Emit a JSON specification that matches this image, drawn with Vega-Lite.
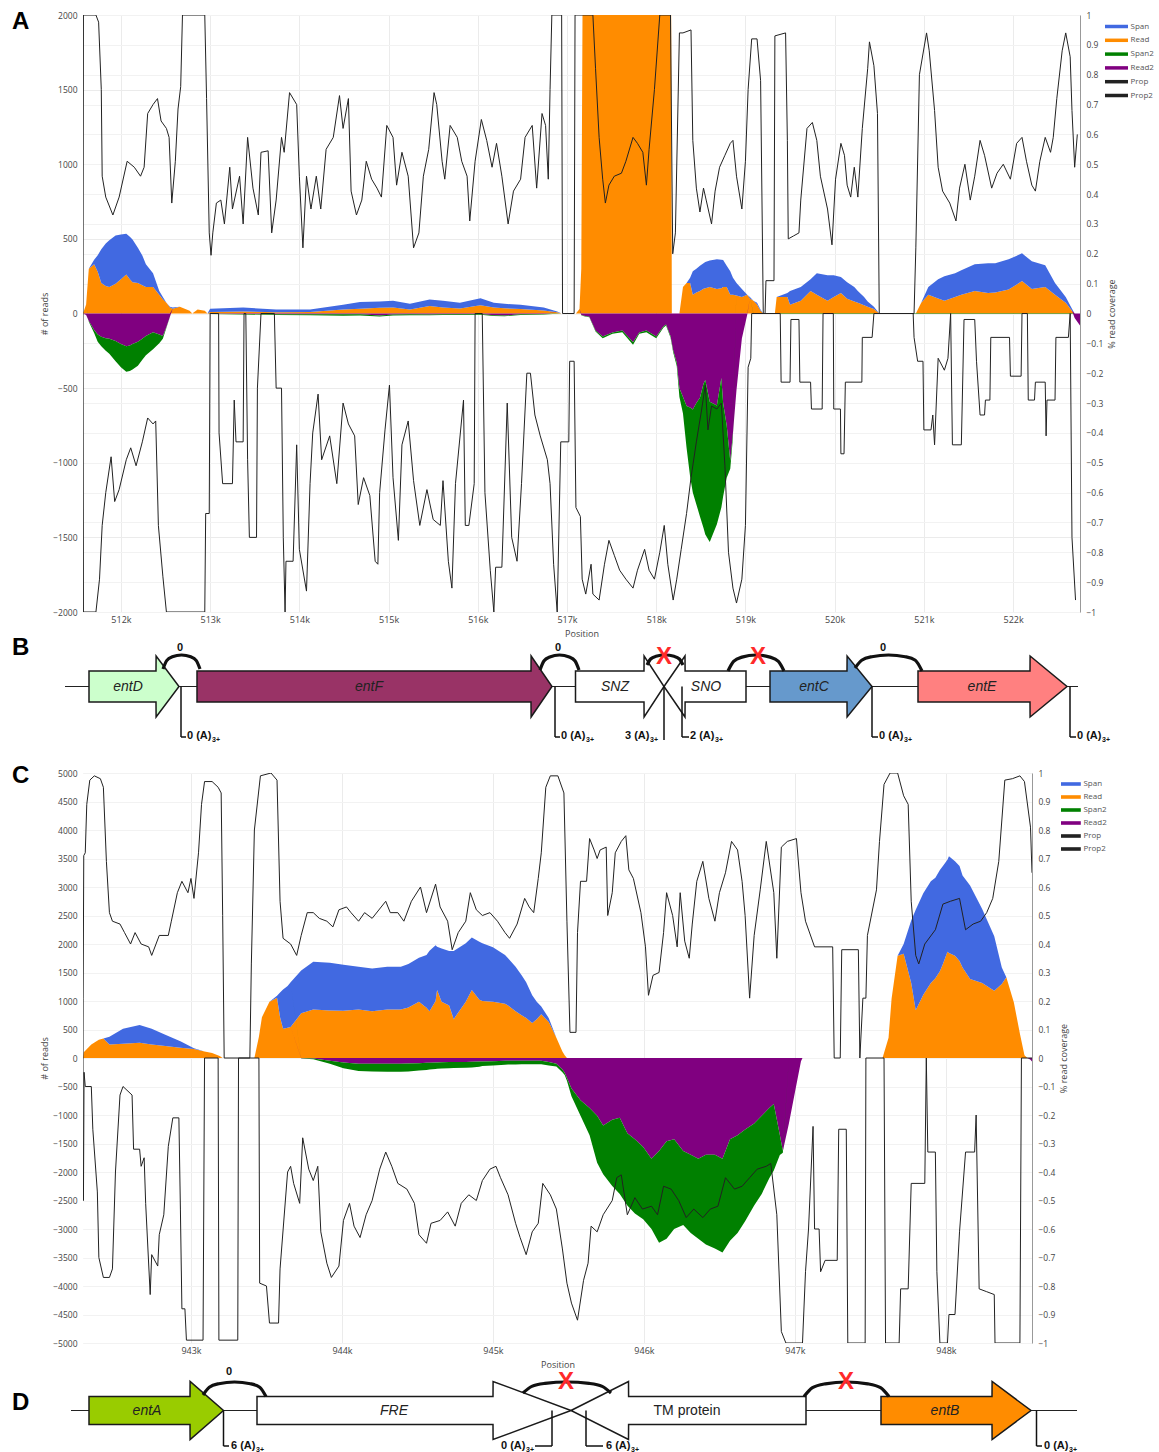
{
"$schema":"https://vega.github.io/schema/vega-lite/v6.json",
"background":"white",
"padding":{"left":11,"top":9,"right":2,"bottom":0},
"autosize":{"type":"pad"},
"spacing":0,
"bounds":"flush",
"config":{"view":{"stroke":null},"axis":{"labelFont":"Open Sans","titleFont":"Open Sans","labelColor":"#444","titleColor":"#444","labelFontSize":8.5,"titleFontSize":9,"titleFontWeight":"normal","ticks":false,"domain":false,"gridColor":"#ebebeb"},"legend":{"labelFont":"Open Sans"}},
"resolve":{"scale":{"color":"independent","x":"independent","y":"independent"},"legend":{"color":"independent"}},
"datasets":{
"aArea":[
{"pos":511575,"Read":0,"Span":0,"Read2":0,"Span2":0},
{"pos":511610,"Read":60,"Span":0,"Read2":-10,"Span2":0},
{"pos":511640,"Read":300,"Span":0,"Read2":-50,"Span2":-5},
{"pos":511700,"Read":330,"Span":30,"Read2":-110,"Span2":-20},
{"pos":511740,"Read":280,"Span":110,"Read2":-140,"Span2":-50},
{"pos":511780,"Read":205,"Span":225,"Read2":-155,"Span2":-65},
{"pos":511830,"Read":185,"Span":284,"Read2":-165,"Span2":-85},
{"pos":511870,"Read":178,"Span":312,"Read2":-170,"Span2":-100},
{"pos":511940,"Read":200,"Span":322,"Read2":-185,"Span2":-135},
{"pos":512000,"Read":230,"Span":300,"Read2":-205,"Span2":-155},
{"pos":512060,"Read":262,"Span":273,"Read2":-220,"Span2":-170},
{"pos":512100,"Read":230,"Span":285,"Read2":-215,"Span2":-170},
{"pos":512130,"Read":210,"Span":285,"Read2":-205,"Span2":-170},
{"pos":512190,"Read":204,"Span":236,"Read2":-190,"Span2":-160},
{"pos":512240,"Read":190,"Span":199,"Read2":-170,"Span2":-140},
{"pos":512280,"Read":178,"Span":152,"Read2":-150,"Span2":-130},
{"pos":512360,"Read":178,"Span":92,"Read2":-125,"Span2":-115},
{"pos":512430,"Read":125,"Span":26,"Read2":-140,"Span2":-60},
{"pos":512470,"Read":95,"Span":15,"Read2":-150,"Span2":-20},
{"pos":512510,"Read":72,"Span":0,"Read2":-90,"Span2":-5},
{"pos":512550,"Read":40,"Span":5,"Read2":-20,"Span2":-2},
{"pos":512580,"Read":32,"Span":8,"Read2":0,"Span2":0},
{"pos":512660,"Read":45,"Span":0,"Read2":0,"Span2":0},
{"pos":512770,"Read":18,"Span":0,"Read2":0,"Span2":0},
{"pos":512800,"Read":0,"Span":0,"Read2":0,"Span2":0},
{"pos":512860,"Read":26,"Span":0,"Read2":0,"Span2":0},
{"pos":512940,"Read":18,"Span":0,"Read2":0,"Span2":0},
{"pos":512970,"Read":0,"Span":0,"Read2":0,"Span2":0},
{"pos":513000,"Read":10,"Span":22,"Read2":-2,"Span2":-2},
{"pos":513370,"Read":13,"Span":27,"Read2":-3,"Span2":-3},
{"pos":513740,"Read":8,"Span":18,"Read2":-5,"Span2":-5},
{"pos":514120,"Read":10,"Span":16,"Read2":-5,"Span2":-7},
{"pos":514490,"Read":26,"Span":32,"Read2":-5,"Span2":-10},
{"pos":514680,"Read":32,"Span":45,"Read2":-5,"Span2":-9},
{"pos":514900,"Read":38,"Span":42,"Read2":-14,"Span2":-6},
{"pos":515050,"Read":40,"Span":45,"Read2":-6,"Span2":-8},
{"pos":515240,"Read":26,"Span":40,"Read2":-5,"Span2":-7},
{"pos":515460,"Read":50,"Span":43,"Read2":-6,"Span2":-6},
{"pos":515610,"Read":40,"Span":45,"Read2":-5,"Span2":-5},
{"pos":515800,"Read":34,"Span":38,"Read2":-5,"Span2":-5},
{"pos":516030,"Read":55,"Span":48,"Read2":-4,"Span2":-4},
{"pos":516180,"Read":40,"Span":32,"Read2":-12,"Span2":-4},
{"pos":516300,"Read":35,"Span":30,"Read2":-14,"Span2":-4},
{"pos":516480,"Read":30,"Span":28,"Read2":-5,"Span2":-5},
{"pos":516740,"Read":20,"Span":20,"Read2":-3,"Span2":-3},
{"pos":516890,"Read":8,"Span":5,"Read2":0,"Span2":-2},
{"pos":516940,"Read":0,"Span":0,"Read2":0,"Span2":0},
{"pos":517100,"Read":0,"Span":0,"Read2":0,"Span2":0},
{"pos":517140,"Read":30,"Span":0,"Read2":0,"Span2":0},
{"pos":517160,"Read":300,"Span":0,"Read2":-10,"Span2":-2},
{"pos":517190,"Read":4000,"Span":0,"Read2":-15,"Span2":-3},
{"pos":517250,"Read":4000,"Span":0,"Read2":-21,"Span2":-4},
{"pos":517320,"Read":4000,"Span":0,"Read2":-114,"Span2":-6},
{"pos":517400,"Read":4000,"Span":0,"Read2":-154,"Span2":-11},
{"pos":517510,"Read":4000,"Span":0,"Read2":-127,"Span2":-8},
{"pos":517620,"Read":4000,"Span":0,"Read2":-114,"Span2":-11},
{"pos":517740,"Read":4000,"Span":0,"Read2":-193,"Span2":-17},
{"pos":517810,"Read":4000,"Span":0,"Read2":-127,"Span2":-8},
{"pos":517890,"Read":4000,"Span":0,"Read2":-114,"Span2":-11},
{"pos":518000,"Read":4000,"Span":0,"Read2":-154,"Span2":-11},
{"pos":518080,"Read":4000,"Span":0,"Read2":-87,"Span2":-8},
{"pos":518110,"Read":4000,"Span":0,"Read2":-74,"Span2":-6},
{"pos":518160,"Read":4000,"Span":0,"Read2":-150,"Span2":-10},
{"pos":518175,"Read":0,"Span":0,"Read2":-200,"Span2":-10},
{"pos":518190,"Read":0,"Span":0,"Read2":-246,"Span2":-14},
{"pos":518230,"Read":0,"Span":0,"Read2":-330,"Span2":-22},
{"pos":518260,"Read":0,"Span":0,"Read2":-500,"Span2":-60},
{"pos":518300,"Read":177,"Span":0,"Read2":-560,"Span2":-110},
{"pos":518340,"Read":204,"Span":0,"Read2":-620,"Span2":-280},
{"pos":518380,"Read":204,"Span":36,"Read2":-630,"Span2":-464},
{"pos":518410,"Read":125,"Span":158,"Read2":-644,"Span2":-556},
{"pos":518450,"Read":140,"Span":160,"Read2":-600,"Span2":-679},
{"pos":518490,"Read":151,"Span":169,"Read2":-564,"Span2":-796},
{"pos":518530,"Read":165,"Span":171,"Read2":-470,"Span2":-968},
{"pos":518550,"Read":170,"Span":175,"Read2":-445,"Span2":-1035},
{"pos":518600,"Read":177,"Span":178,"Read2":-591,"Span2":-940},
{"pos":518680,"Read":164,"Span":199,"Read2":-617,"Span2":-795},
{"pos":518730,"Read":170,"Span":190,"Read2":-432,"Span2":-868},
{"pos":518750,"Read":177,"Span":181,"Read2":-600,"Span2":-626},
{"pos":518790,"Read":177,"Span":143,"Read2":-750,"Span2":-350},
{"pos":518830,"Read":125,"Span":158,"Read2":-988,"Span2":-53},
{"pos":518860,"Read":125,"Span":115,"Read2":-800,"Span2":-29},
{"pos":518900,"Read":120,"Span":84,"Read2":-511,"Span2":0},
{"pos":518960,"Read":111,"Span":53,"Read2":-167,"Span2":0},
{"pos":519020,"Read":125,"Span":0,"Read2":-8,"Span2":0},
{"pos":519050,"Read":100,"Span":10,"Read2":0,"Span2":0},
{"pos":519090,"Read":85,"Span":0,"Read2":0,"Span2":-3},
{"pos":519130,"Read":60,"Span":12,"Read2":0,"Span2":-3},
{"pos":519170,"Read":18,"Span":7,"Read2":0,"Span2":-3},
{"pos":519200,"Read":0,"Span":0,"Read2":0,"Span2":-3},
{"pos":519330,"Read":0,"Span":0,"Read2":0,"Span2":-3},
{"pos":519350,"Read":111,"Span":0,"Read2":0,"Span2":-3},
{"pos":519470,"Read":111,"Span":27,"Read2":0,"Span2":-3},
{"pos":519500,"Read":58,"Span":92,"Read2":0,"Span2":-3},
{"pos":519620,"Read":85,"Span":92,"Read2":0,"Span2":-3},
{"pos":519730,"Read":151,"Span":79,"Read2":0,"Span2":-3},
{"pos":519800,"Read":125,"Span":145,"Read2":0,"Span2":-3},
{"pos":519920,"Read":85,"Span":172,"Read2":0,"Span2":-3},
{"pos":519990,"Read":111,"Span":146,"Read2":0,"Span2":-3},
{"pos":520070,"Read":138,"Span":107,"Read2":0,"Span2":-3},
{"pos":520140,"Read":98,"Span":112,"Read2":0,"Span2":-3},
{"pos":520220,"Read":80,"Span":97,"Read2":0,"Span2":-3},
{"pos":520260,"Read":72,"Span":78,"Read2":0,"Span2":-3},
{"pos":520330,"Read":55,"Span":56,"Read2":0,"Span2":-3},
{"pos":520370,"Read":45,"Span":35,"Read2":0,"Span2":-3},
{"pos":520440,"Read":30,"Span":15,"Read2":0,"Span2":-3},
{"pos":520500,"Read":0,"Span":0,"Read2":0,"Span2":-3},
{"pos":520910,"Read":0,"Span":0,"Read2":0,"Span2":-3},
{"pos":520970,"Read":72,"Span":0,"Read2":0,"Span2":-3},
{"pos":521050,"Read":125,"Span":52,"Read2":0,"Span2":-3},
{"pos":521160,"Read":100,"Span":130,"Read2":0,"Span2":-3},
{"pos":521230,"Read":85,"Span":165,"Read2":0,"Span2":-3},
{"pos":521350,"Read":110,"Span":160,"Read2":0,"Span2":-3},
{"pos":521420,"Read":125,"Span":165,"Read2":0,"Span2":-3},
{"pos":521570,"Read":151,"Span":179,"Read2":0,"Span2":-3},
{"pos":521720,"Read":138,"Span":198,"Read2":0,"Span2":-3},
{"pos":521800,"Read":140,"Span":196,"Read2":0,"Span2":-3},
{"pos":521950,"Read":160,"Span":203,"Read2":0,"Span2":-3},
{"pos":522100,"Read":217,"Span":186,"Read2":0,"Span2":-3},
{"pos":522210,"Read":164,"Span":186,"Read2":0,"Span2":-3},
{"pos":522360,"Read":177,"Span":146,"Read2":0,"Span2":-3},
{"pos":522470,"Read":125,"Span":79,"Read2":0,"Span2":-3},
{"pos":522590,"Read":72,"Span":39,"Read2":0,"Span2":-3},
{"pos":522660,"Read":18,"Span":14,"Read2":0,"Span2":-3},
{"pos":522690,"Read":0,"Span":0,"Read2":-30,"Span2":0},
{"pos":522750,"Read":0,"Span":0,"Read2":-80,"Span2":0}
],
"aProp":[
{"pos":511575,"Prop":0},{"pos":511580,"Prop":1},{"pos":511720,"Prop":1},{"pos":511750,"Prop":0.976},{"pos":511780,"Prop":0.75},{"pos":511790,"Prop":0.46},{"pos":511830,"Prop":0.39},{"pos":511910,"Prop":0.33},{"pos":511980,"Prop":0.39},{"pos":512070,"Prop":0.51},{"pos":512150,"Prop":0.49},{"pos":512220,"Prop":0.46},{"pos":512260,"Prop":0.49},{"pos":512300,"Prop":0.67},{"pos":512360,"Prop":0.7},{"pos":512410,"Prop":0.72},{"pos":512450,"Prop":0.645},{"pos":512510,"Prop":0.62},{"pos":512540,"Prop":0.59},{"pos":512570,"Prop":0.37},{"pos":512610,"Prop":0.51},{"pos":512640,"Prop":0.685},{"pos":512670,"Prop":0.76},{"pos":512690,"Prop":1},{"pos":512940,"Prop":1},{"pos":512960,"Prop":0.72},{"pos":512990,"Prop":0.27},{"pos":513010,"Prop":0.195},{"pos":513030,"Prop":0.27},{"pos":513070,"Prop":0.37},{"pos":513120,"Prop":0.38},{"pos":513160,"Prop":0.3},{"pos":513220,"Prop":0.49},{"pos":513250,"Prop":0.35},{"pos":513330,"Prop":0.46},{"pos":513370,"Prop":0.3},{"pos":513420,"Prop":0.59},{"pos":513480,"Prop":0.42},{"pos":513540,"Prop":0.33},{"pos":513570,"Prop":0.54},{"pos":513650,"Prop":0.545},{"pos":513690,"Prop":0.27},{"pos":513740,"Prop":0.38},{"pos":513800,"Prop":0.59},{"pos":513830,"Prop":0.54},{"pos":513890,"Prop":0.74},{"pos":513970,"Prop":0.7},{"pos":514000,"Prop":0.46},{"pos":514040,"Prop":0.22},{"pos":514080,"Prop":0.46},{"pos":514130,"Prop":0.35},{"pos":514190,"Prop":0.46},{"pos":514240,"Prop":0.35},{"pos":514300,"Prop":0.55},{"pos":514380,"Prop":0.59},{"pos":514450,"Prop":0.73},{"pos":514490,"Prop":0.62},{"pos":514550,"Prop":0.72},{"pos":514580,"Prop":0.41},{"pos":514640,"Prop":0.33},{"pos":514700,"Prop":0.38},{"pos":514750,"Prop":0.51},{"pos":514810,"Prop":0.45},{"pos":514870,"Prop":0.42},{"pos":514920,"Prop":0.39},{"pos":514980,"Prop":0.63},{"pos":515050,"Prop":0.59},{"pos":515090,"Prop":0.43},{"pos":515150,"Prop":0.54},{"pos":515220,"Prop":0.46},{"pos":515280,"Prop":0.22},{"pos":515340,"Prop":0.27},{"pos":515390,"Prop":0.46},{"pos":515450,"Prop":0.55},{"pos":515510,"Prop":0.74},{"pos":515540,"Prop":0.7},{"pos":515600,"Prop":0.51},{"pos":515630,"Prop":0.45},{"pos":515690,"Prop":0.63},{"pos":515770,"Prop":0.59},{"pos":515820,"Prop":0.51},{"pos":515880,"Prop":0.46},{"pos":515910,"Prop":0.31},{"pos":515970,"Prop":0.51},{"pos":516040,"Prop":0.65},{"pos":516100,"Prop":0.58},{"pos":516160,"Prop":0.49},{"pos":516210,"Prop":0.57},{"pos":516270,"Prop":0.46},{"pos":516340,"Prop":0.3},{"pos":516400,"Prop":0.41},{"pos":516480,"Prop":0.45},{"pos":516530,"Prop":0.59},{"pos":516610,"Prop":0.63},{"pos":516660,"Prop":0.42},{"pos":516720,"Prop":0.67},{"pos":516760,"Prop":0.63},{"pos":516790,"Prop":0.45},{"pos":516810,"Prop":0.75},{"pos":516830,"Prop":1},{"pos":516940,"Prop":1},{"pos":516950,"Prop":0},{"pos":517080,"Prop":0},{"pos":517090,"Prop":1},{"pos":517290,"Prop":1},{"pos":517320,"Prop":0.82},{"pos":517360,"Prop":0.59},{"pos":517400,"Prop":0.45},{"pos":517430,"Prop":0.37},{"pos":517470,"Prop":0.43},{"pos":517530,"Prop":0.46},{"pos":517610,"Prop":0.47},{"pos":517660,"Prop":0.51},{"pos":517740,"Prop":0.59},{"pos":517790,"Prop":0.57},{"pos":517850,"Prop":0.54},{"pos":517890,"Prop":0.43},{"pos":517920,"Prop":0.55},{"pos":517980,"Prop":0.75},{"pos":518040,"Prop":1},{"pos":518160,"Prop":1},{"pos":518185,"Prop":0.2},{"pos":518215,"Prop":0.27},{"pos":518260,"Prop":0.94},{"pos":518300,"Prop":0.94},{"pos":518390,"Prop":0.95},{"pos":518410,"Prop":0.58},{"pos":518450,"Prop":0.42},{"pos":518490,"Prop":0.34},{"pos":518530,"Prop":0.42},{"pos":518560,"Prop":0.38},{"pos":518620,"Prop":0.3},{"pos":518660,"Prop":0.41},{"pos":518710,"Prop":0.49},{"pos":518770,"Prop":0.53},{"pos":518830,"Prop":0.57},{"pos":518860,"Prop":0.58},{"pos":518900,"Prop":0.46},{"pos":518960,"Prop":0.35},{"pos":519000,"Prop":0.51},{"pos":519030,"Prop":0.75},{"pos":519070,"Prop":0.92},{"pos":519130,"Prop":0.92},{"pos":519170,"Prop":0.78},{"pos":519200,"Prop":0},{"pos":519220,"Prop":0},{"pos":519230,"Prop":0.11},{"pos":519320,"Prop":0.11},{"pos":519330,"Prop":0.93},{"pos":519450,"Prop":0.94},{"pos":519470,"Prop":0.58},{"pos":519480,"Prop":0.25},{"pos":519540,"Prop":0.26},{"pos":519600,"Prop":0.27},{"pos":519620,"Prop":0.38},{"pos":519690,"Prop":0.62},{"pos":519750,"Prop":0.64},{"pos":519800,"Prop":0.58},{"pos":519840,"Prop":0.46},{"pos":519920,"Prop":0.35},{"pos":519970,"Prop":0.23},{"pos":520010,"Prop":0.45},{"pos":520070,"Prop":0.57},{"pos":520110,"Prop":0.53},{"pos":520140,"Prop":0.43},{"pos":520180,"Prop":0.39},{"pos":520220,"Prop":0.49},{"pos":520260,"Prop":0.39},{"pos":520310,"Prop":0.62},{"pos":520370,"Prop":0.82},{"pos":520390,"Prop":0.91},{"pos":520440,"Prop":0.83},{"pos":520480,"Prop":0.67},{"pos":520500,"Prop":0},{"pos":520890,"Prop":0},{"pos":520910,"Prop":0.22},{"pos":520950,"Prop":0.8},{"pos":521030,"Prop":0.94},{"pos":521060,"Prop":0.88},{"pos":521120,"Prop":0.68},{"pos":521160,"Prop":0.49},{"pos":521210,"Prop":0.41},{"pos":521290,"Prop":0.37},{"pos":521360,"Prop":0.31},{"pos":521400,"Prop":0.42},{"pos":521460,"Prop":0.5},{"pos":521520,"Prop":0.38},{"pos":521570,"Prop":0.46},{"pos":521630,"Prop":0.58},{"pos":521680,"Prop":0.53},{"pos":521760,"Prop":0.42},{"pos":521820,"Prop":0.47},{"pos":521890,"Prop":0.5},{"pos":521970,"Prop":0.45},{"pos":522040,"Prop":0.57},{"pos":522100,"Prop":0.59},{"pos":522150,"Prop":0.51},{"pos":522210,"Prop":0.43},{"pos":522250,"Prop":0.41},{"pos":522300,"Prop":0.51},{"pos":522360,"Prop":0.59},{"pos":522420,"Prop":0.54},{"pos":522450,"Prop":0.59},{"pos":522490,"Prop":0.72},{"pos":522550,"Prop":0.88},{"pos":522590,"Prop":0.94},{"pos":522640,"Prop":0.86},{"pos":522660,"Prop":0.68},{"pos":522690,"Prop":0.49},{"pos":522720,"Prop":0.6},
{"pos":511575,"Prop2":0},{"pos":511580,"Prop2":-1},{"pos":511720,"Prop2":-1},{"pos":511760,"Prop2":-0.89},{"pos":511790,"Prop2":-0.71},{"pos":511830,"Prop2":-0.6},{"pos":511890,"Prop2":-0.48},{"pos":511930,"Prop2":-0.63},{"pos":511980,"Prop2":-0.59},{"pos":512060,"Prop2":-0.49},{"pos":512110,"Prop2":-0.45},{"pos":512170,"Prop2":-0.51},{"pos":512240,"Prop2":-0.43},{"pos":512300,"Prop2":-0.35},{"pos":512360,"Prop2":-0.37},{"pos":512390,"Prop2":-0.36},{"pos":512420,"Prop2":-0.71},{"pos":512470,"Prop2":-0.88},{"pos":512510,"Prop2":-1},{"pos":512940,"Prop2":-1},{"pos":512950,"Prop2":-0.67},{"pos":512990,"Prop2":-0.67},{"pos":513000,"Prop2":0},{"pos":513095,"Prop2":0},{"pos":513100,"Prop2":-0.4},{"pos":513140,"Prop2":-0.57},{"pos":513250,"Prop2":-0.57},{"pos":513270,"Prop2":-0.29},{"pos":513290,"Prop2":-0.43},{"pos":513370,"Prop2":-0.43},{"pos":513380,"Prop2":0},{"pos":513400,"Prop2":0},{"pos":513420,"Prop2":-0.49},{"pos":513440,"Prop2":-0.75},{"pos":513520,"Prop2":-0.75},{"pos":513530,"Prop2":-0.25},{"pos":513570,"Prop2":0},{"pos":513720,"Prop2":0},{"pos":513740,"Prop2":-0.25},{"pos":513800,"Prop2":-0.25},{"pos":513820,"Prop2":-0.75},{"pos":513840,"Prop2":-1},{"pos":513850,"Prop2":-0.83},{"pos":513930,"Prop2":-0.83},{"pos":513970,"Prop2":-0.44},{"pos":514000,"Prop2":-0.79},{"pos":514080,"Prop2":-0.93},{"pos":514120,"Prop2":-0.57},{"pos":514150,"Prop2":-0.4},{"pos":514210,"Prop2":-0.27},{"pos":514250,"Prop2":-0.49},{"pos":514340,"Prop2":-0.41},{"pos":514420,"Prop2":-0.57},{"pos":514490,"Prop2":-0.3},{"pos":514550,"Prop2":-0.37},{"pos":514620,"Prop2":-0.41},{"pos":514660,"Prop2":-0.64},{"pos":514720,"Prop2":-0.55},{"pos":514790,"Prop2":-0.61},{"pos":514850,"Prop2":-0.83},{"pos":514880,"Prop2":-0.84},{"pos":514900,"Prop2":-0.6},{"pos":514960,"Prop2":-0.39},{"pos":515010,"Prop2":-0.24},{"pos":515050,"Prop2":-0.55},{"pos":515110,"Prop2":-0.76},{"pos":515150,"Prop2":-0.44},{"pos":515220,"Prop2":-0.36},{"pos":515280,"Prop2":-0.56},{"pos":515350,"Prop2":-0.71},{"pos":515430,"Prop2":-0.59},{"pos":515500,"Prop2":-0.69},{"pos":515580,"Prop2":-0.71},{"pos":515610,"Prop2":-0.56},{"pos":515670,"Prop2":-0.83},{"pos":515710,"Prop2":-0.92},{"pos":515750,"Prop2":-0.57},{"pos":515840,"Prop2":-0.29},{"pos":515860,"Prop2":-0.71},{"pos":515900,"Prop2":-0.71},{"pos":515960,"Prop2":-0.57},{"pos":515970,"Prop2":0},{"pos":516050,"Prop2":0},{"pos":516080,"Prop2":-0.6},{"pos":516140,"Prop2":-0.86},{"pos":516180,"Prop2":-1},{"pos":516200,"Prop2":-0.85},{"pos":516270,"Prop2":-0.85},{"pos":516330,"Prop2":-0.3},{"pos":516380,"Prop2":-0.75},{"pos":516440,"Prop2":-0.83},{"pos":516490,"Prop2":-0.57},{"pos":516550,"Prop2":-0.2},{"pos":516590,"Prop2":-0.2},{"pos":516640,"Prop2":-0.34},{"pos":516700,"Prop2":-0.41},{"pos":516780,"Prop2":-0.49},{"pos":516810,"Prop2":-0.57},{"pos":516850,"Prop2":-0.84},{"pos":516890,"Prop2":-1},{"pos":516930,"Prop2":-0.43},{"pos":517020,"Prop2":-0.43},{"pos":517030,"Prop2":-0.16},{"pos":517080,"Prop2":-0.16},{"pos":517100,"Prop2":-0.65},{"pos":517150,"Prop2":-0.68},{"pos":517170,"Prop2":-0.89},{"pos":517210,"Prop2":-0.94},{"pos":517270,"Prop2":-0.84},{"pos":517290,"Prop2":-0.94},{"pos":517360,"Prop2":-0.96},{"pos":517420,"Prop2":-0.84},{"pos":517470,"Prop2":-0.76},{"pos":517530,"Prop2":-0.81},{"pos":517590,"Prop2":-0.86},{"pos":517660,"Prop2":-0.89},{"pos":517740,"Prop2":-0.92},{"pos":517790,"Prop2":-0.86},{"pos":517870,"Prop2":-0.79},{"pos":517920,"Prop2":-0.86},{"pos":517980,"Prop2":-0.89},{"pos":518040,"Prop2":-0.8},{"pos":518090,"Prop2":-0.71},{"pos":518130,"Prop2":-0.84},{"pos":518190,"Prop2":-0.96},{"pos":518230,"Prop2":-0.89},{"pos":518280,"Prop2":-0.79},{"pos":518340,"Prop2":-0.67},{"pos":518390,"Prop2":-0.55},{"pos":518450,"Prop2":-0.43},{"pos":518510,"Prop2":-0.32},{"pos":518550,"Prop2":-0.24},{"pos":518580,"Prop2":-0.39},{"pos":518620,"Prop2":-0.31},{"pos":518680,"Prop2":-0.32},{"pos":518730,"Prop2":-0.3},{"pos":518770,"Prop2":-0.51},{"pos":518810,"Prop2":-0.8},{"pos":518860,"Prop2":-0.92},{"pos":518900,"Prop2":-0.97},{"pos":518960,"Prop2":-0.89},{"pos":519000,"Prop2":-0.71},{"pos":519030,"Prop2":-0.18},{"pos":519060,"Prop2":-0.15},{"pos":519070,"Prop2":0},{"pos":519390,"Prop2":0},{"pos":519400,"Prop2":-0.23},{"pos":519500,"Prop2":-0.23},{"pos":519510,"Prop2":-0.02},{"pos":519600,"Prop2":-0.02},{"pos":519610,"Prop2":-0.23},{"pos":519730,"Prop2":-0.23},{"pos":519740,"Prop2":-0.32},{"pos":519860,"Prop2":-0.32},{"pos":519870,"Prop2":0},{"pos":519985,"Prop2":0},{"pos":519990,"Prop2":-0.32},{"pos":520065,"Prop2":-0.32},{"pos":520070,"Prop2":-0.47},{"pos":520105,"Prop2":-0.47},{"pos":520120,"Prop2":-0.23},{"pos":520305,"Prop2":-0.23},{"pos":520310,"Prop2":-0.08},{"pos":520420,"Prop2":-0.08},{"pos":520440,"Prop2":0},{"pos":520880,"Prop2":0},{"pos":520890,"Prop2":-0.08},{"pos":520930,"Prop2":-0.16},{"pos":520990,"Prop2":-0.16},{"pos":521000,"Prop2":-0.39},{"pos":521080,"Prop2":-0.39},{"pos":521100,"Prop2":-0.34},{"pos":521120,"Prop2":-0.44},{"pos":521160,"Prop2":-0.15},{"pos":521230,"Prop2":-0.19},{"pos":521270,"Prop2":-0.15},{"pos":521300,"Prop2":0},{"pos":521320,"Prop2":-0.44},{"pos":521420,"Prop2":-0.44},{"pos":521450,"Prop2":-0.02},{"pos":521570,"Prop2":-0.02},{"pos":521590,"Prop2":-0.16},{"pos":521630,"Prop2":-0.34},{"pos":521680,"Prop2":-0.34},{"pos":521690,"Prop2":-0.29},{"pos":521740,"Prop2":-0.29},{"pos":521750,"Prop2":-0.08},{"pos":521960,"Prop2":-0.08},{"pos":521970,"Prop2":-0.21},{"pos":522090,"Prop2":-0.21},{"pos":522100,"Prop2":0},{"pos":522160,"Prop2":0},{"pos":522170,"Prop2":-0.29},{"pos":522240,"Prop2":-0.29},{"pos":522250,"Prop2":-0.23},{"pos":522360,"Prop2":-0.23},{"pos":522370,"Prop2":-0.41},{"pos":522380,"Prop2":-0.29},{"pos":522470,"Prop2":-0.29},{"pos":522480,"Prop2":-0.08},{"pos":522620,"Prop2":-0.08},{"pos":522640,"Prop2":0},{"pos":522660,"Prop2":-0.75},{"pos":522700,"Prop2":-0.96}
],
"cArea":[
{"pos":942285,"Read":0,"Span":0,"Read2":0,"Span2":0},
{"pos":942290,"Read":102,"Span":0,"Read2":0,"Span2":0},
{"pos":942340,"Read":239,"Span":0,"Read2":0,"Span2":0},
{"pos":942390,"Read":321,"Span":0,"Read2":0,"Span2":0},
{"pos":942420,"Read":341,"Span":0,"Read2":0,"Span2":0},
{"pos":942460,"Read":239,"Span":136,"Read2":0,"Span2":0},
{"pos":942550,"Read":252,"Span":260,"Read2":0,"Span2":0},
{"pos":942660,"Read":266,"Span":314,"Read2":0,"Span2":0},
{"pos":942740,"Read":239,"Span":273,"Read2":0,"Span2":0},
{"pos":942830,"Read":210,"Span":199,"Read2":0,"Span2":0},
{"pos":942930,"Read":180,"Span":113,"Read2":0,"Span2":0},
{"pos":943020,"Read":160,"Span":10,"Read2":0,"Span2":0},
{"pos":943090,"Read":116,"Span":0,"Read2":0,"Span2":0},
{"pos":943140,"Read":89,"Span":0,"Read2":0,"Span2":0},
{"pos":943190,"Read":34,"Span":0,"Read2":0,"Span2":0},
{"pos":943210,"Read":0,"Span":0,"Read2":0,"Span2":0},
{"pos":943420,"Read":0,"Span":0,"Read2":0,"Span2":0},
{"pos":943450,"Read":375,"Span":0,"Read2":0,"Span2":0},
{"pos":943470,"Read":716,"Span":0,"Read2":0,"Span2":0},
{"pos":943520,"Read":989,"Span":0,"Read2":0,"Span2":0},
{"pos":943570,"Read":1057,"Span":34,"Read2":0,"Span2":0},
{"pos":943590,"Read":716,"Span":434,"Read2":0,"Span2":0},
{"pos":943610,"Read":512,"Span":688,"Read2":0,"Span2":0},
{"pos":943640,"Read":530,"Span":732,"Read2":0,"Span2":0},
{"pos":943660,"Read":546,"Span":784,"Read2":0,"Span2":0},
{"pos":943730,"Read":784,"Span":751,"Read2":-5,"Span2":-5},
{"pos":943810,"Read":853,"Span":837,"Read2":-10,"Span2":-10},
{"pos":943920,"Read":835,"Span":836,"Read2":-50,"Span2":-50},
{"pos":944010,"Read":830,"Span":807,"Read2":-80,"Span2":-100},
{"pos":944110,"Read":853,"Span":750,"Read2":-100,"Span2":-130},
{"pos":944200,"Read":819,"Span":750,"Read2":-102,"Span2":-137},
{"pos":944300,"Read":853,"Span":750,"Read2":-100,"Span2":-140},
{"pos":944390,"Read":853,"Span":750,"Read2":-100,"Span2":-140},
{"pos":944440,"Read":887,"Span":763,"Read2":-95,"Span2":-140},
{"pos":944510,"Read":989,"Span":771,"Read2":-90,"Span2":-130},
{"pos":944560,"Read":880,"Span":928,"Read2":-85,"Span2":-125},
{"pos":944580,"Read":819,"Span":1061,"Read2":-82,"Span2":-120},
{"pos":944620,"Read":1000,"Span":978,"Read2":-80,"Span2":-115},
{"pos":944630,"Read":1194,"Span":756,"Read2":-78,"Span2":-112},
{"pos":944660,"Read":989,"Span":931,"Read2":-75,"Span2":-110},
{"pos":944710,"Read":921,"Span":955,"Read2":-70,"Span2":-110},
{"pos":944740,"Read":682,"Span":1194,"Read2":-70,"Span2":-105},
{"pos":944820,"Read":989,"Span":1023,"Read2":-68,"Span2":-102},
{"pos":944860,"Read":1194,"Span":921,"Read2":-65,"Span2":-100},
{"pos":944910,"Read":1023,"Span":1017,"Read2":-62,"Span2":-90},
{"pos":944930,"Read":1000,"Span":1012,"Read2":-60,"Span2":-80},
{"pos":945000,"Read":989,"Span":955,"Read2":-55,"Span2":-75},
{"pos":945080,"Read":950,"Span":858,"Read2":-50,"Span2":-70},
{"pos":945100,"Read":921,"Span":829,"Read2":-48,"Span2":-68},
{"pos":945150,"Read":820,"Span":783,"Read2":-48,"Span2":-65},
{"pos":945190,"Read":750,"Span":700,"Read2":-48,"Span2":-62},
{"pos":945220,"Read":700,"Span":630,"Read2":-48,"Span2":-60},
{"pos":945260,"Read":614,"Span":486,"Read2":-48,"Span2":-60},
{"pos":945290,"Read":680,"Span":309,"Read2":-49,"Span2":-60},
{"pos":945320,"Read":767,"Span":137,"Read2":-50,"Span2":-60},
{"pos":945370,"Read":630,"Span":69,"Read2":-70,"Span2":-60},
{"pos":945420,"Read":356,"Span":0,"Read2":-100,"Span2":-50},
{"pos":945460,"Read":116,"Span":0,"Read2":-200,"Span2":-50},
{"pos":945475,"Read":50,"Span":0,"Read2":-260,"Span2":-40},
{"pos":945490,"Read":0,"Span":0,"Read2":-350,"Span2":-50},
{"pos":945520,"Read":0,"Span":0,"Read2":-534,"Span2":-137},
{"pos":945580,"Read":0,"Span":0,"Read2":-740,"Span2":-274},
{"pos":945640,"Read":0,"Span":0,"Read2":-877,"Span2":-479},
{"pos":945690,"Read":0,"Span":0,"Read2":-1014,"Span2":-822},
{"pos":945730,"Read":0,"Span":0,"Read2":-1185,"Span2":-856},
{"pos":945790,"Read":0,"Span":0,"Read2":-1082,"Span2":-1165},
{"pos":945840,"Read":0,"Span":0,"Read2":-1048,"Span2":-1336},
{"pos":945890,"Read":0,"Span":0,"Read2":-1322,"Span2":-1267},
{"pos":945940,"Read":0,"Span":0,"Read2":-1425,"Span2":-1301},
{"pos":945995,"Read":0,"Span":0,"Read2":-1562,"Span2":-1267},
{"pos":946050,"Read":0,"Span":0,"Read2":-1767,"Span2":-1233},
{"pos":946100,"Read":0,"Span":0,"Read2":-1630,"Span2":-1610},
{"pos":946150,"Read":0,"Span":0,"Read2":-1459,"Span2":-1712},
{"pos":946200,"Read":0,"Span":0,"Read2":-1425,"Span2":-1575},
{"pos":946260,"Read":0,"Span":0,"Read2":-1630,"Span2":-1302},
{"pos":946310,"Read":0,"Span":0,"Read2":-1699,"Span2":-1369},
{"pos":946360,"Read":0,"Span":0,"Read2":-1767,"Span2":-1404},
{"pos":946410,"Read":0,"Span":0,"Read2":-1699,"Span2":-1575},
{"pos":946470,"Read":0,"Span":0,"Read2":-1699,"Span2":-1643},
{"pos":946520,"Read":0,"Span":0,"Read2":-1767,"Span2":-1644},
{"pos":946570,"Read":0,"Span":0,"Read2":-1425,"Span2":-1780},
{"pos":946620,"Read":0,"Span":0,"Read2":-1356,"Span2":-1712},
{"pos":946670,"Read":0,"Span":0,"Read2":-1253,"Span2":-1610},
{"pos":946730,"Read":0,"Span":0,"Read2":-1151,"Span2":-1438},
{"pos":946780,"Read":0,"Span":0,"Read2":-1014,"Span2":-1370},
{"pos":946830,"Read":0,"Span":0,"Read2":-877,"Span2":-1233},
{"pos":946860,"Read":0,"Span":0,"Read2":-808,"Span2":-1165},
{"pos":946900,"Read":0,"Span":0,"Read2":-1350,"Span2":-350},
{"pos":946920,"Read":0,"Span":0,"Read2":-1630,"Span2":-34},
{"pos":946960,"Read":0,"Span":0,"Read2":-1151,"Span2":0},
{"pos":947000,"Read":0,"Span":0,"Read2":-603,"Span2":0},
{"pos":947040,"Read":0,"Span":0,"Read2":-55,"Span2":0},
{"pos":947050,"Read":0,"Span":0,"Read2":0,"Span2":0},
{"pos":947580,"Read":0,"Span":0,"Read2":0,"Span2":0},
{"pos":947620,"Read":356,"Span":0,"Read2":0,"Span2":0},
{"pos":947640,"Read":1041,"Span":0,"Read2":0,"Span2":0},
{"pos":947680,"Read":1795,"Span":0,"Read2":0,"Span2":0},
{"pos":947720,"Read":1829,"Span":171,"Read2":0,"Span2":0},
{"pos":947770,"Read":1315,"Span":1096,"Read2":0,"Span2":0},
{"pos":947800,"Read":836,"Span":1764,"Read2":0,"Span2":0},
{"pos":947850,"Read":1110,"Span":1780,"Read2":0,"Span2":0},
{"pos":947900,"Read":1315,"Span":1785,"Read2":0,"Span2":0},
{"pos":947930,"Read":1400,"Span":1764,"Read2":0,"Span2":0},
{"pos":947960,"Read":1521,"Span":1779,"Read2":0,"Span2":0},
{"pos":947980,"Read":1650,"Span":1720,"Read2":0,"Span2":0},
{"pos":948010,"Read":1863,"Span":1617,"Read2":0,"Span2":0},
{"pos":948020,"Read":1840,"Span":1701,"Read2":0,"Span2":0},
{"pos":948060,"Read":1795,"Span":1655,"Read2":0,"Span2":0},
{"pos":948090,"Read":1700,"Span":1670,"Read2":0,"Span2":0},
{"pos":948110,"Read":1589,"Span":1611,"Read2":0,"Span2":0},
{"pos":948160,"Read":1384,"Span":1643,"Read2":0,"Span2":0},
{"pos":948240,"Read":1315,"Span":1301,"Read2":0,"Span2":0},
{"pos":948320,"Read":1178,"Span":959,"Read2":0,"Span2":0},
{"pos":948370,"Read":1300,"Span":289,"Read2":0,"Span2":0},
{"pos":948400,"Read":1418,"Span":0,"Read2":0,"Span2":0},
{"pos":948450,"Read":973,"Span":0,"Read2":0,"Span2":0},
{"pos":948490,"Read":425,"Span":0,"Read2":0,"Span2":0},
{"pos":948520,"Read":48,"Span":0,"Read2":0,"Span2":0},
{"pos":948540,"Read":0,"Span":0,"Read2":0,"Span2":0},
{"pos":948560,"Read":0,"Span":0,"Read2":-30,"Span2":0},
{"pos":948570,"Read":0,"Span":0,"Read2":-60,"Span2":0}
],
"cProp":[
{"pos":942285,"Prop":0},{"pos":942286,"Prop":0.21},{"pos":942290,"Prop":0.71},{"pos":942300,"Prop":0.72},{"pos":942310,"Prop":0.89},{"pos":942330,"Prop":0.975},{"pos":942360,"Prop":0.99},{"pos":942400,"Prop":0.98},{"pos":942420,"Prop":0.95},{"pos":942440,"Prop":0.69},{"pos":942460,"Prop":0.51},{"pos":942480,"Prop":0.48},{"pos":942530,"Prop":0.47},{"pos":942560,"Prop":0.44},{"pos":942600,"Prop":0.4},{"pos":942630,"Prop":0.44},{"pos":942670,"Prop":0.4},{"pos":942720,"Prop":0.39},{"pos":942740,"Prop":0.36},{"pos":942790,"Prop":0.43},{"pos":942850,"Prop":0.43},{"pos":942870,"Prop":0.48},{"pos":942910,"Prop":0.58},{"pos":942940,"Prop":0.62},{"pos":942980,"Prop":0.58},{"pos":943000,"Prop":0.63},{"pos":943020,"Prop":0.56},{"pos":943050,"Prop":0.72},{"pos":943070,"Prop":0.89},{"pos":943090,"Prop":0.97},{"pos":943140,"Prop":0.97},{"pos":943180,"Prop":0.95},{"pos":943200,"Prop":0.93},{"pos":943210,"Prop":0.5},{"pos":943220,"Prop":0},{"pos":943390,"Prop":0},{"pos":943400,"Prop":0.33},{"pos":943420,"Prop":0.8},{"pos":943460,"Prop":0.99},{"pos":943530,"Prop":1},{"pos":943570,"Prop":0.975},{"pos":943590,"Prop":0.55},{"pos":943610,"Prop":0.42},{"pos":943660,"Prop":0.4},{"pos":943700,"Prop":0.36},{"pos":943730,"Prop":0.43},{"pos":943770,"Prop":0.51},{"pos":943810,"Prop":0.51},{"pos":943850,"Prop":0.49},{"pos":943900,"Prop":0.48},{"pos":943940,"Prop":0.46},{"pos":943980,"Prop":0.52},{"pos":944030,"Prop":0.53},{"pos":944060,"Prop":0.51},{"pos":944110,"Prop":0.48},{"pos":944150,"Prop":0.51},{"pos":944200,"Prop":0.49},{"pos":944290,"Prop":0.55},{"pos":944320,"Prop":0.51},{"pos":944370,"Prop":0.51},{"pos":944410,"Prop":0.48},{"pos":944460,"Prop":0.55},{"pos":944520,"Prop":0.6},{"pos":944560,"Prop":0.51},{"pos":944620,"Prop":0.61},{"pos":944650,"Prop":0.53},{"pos":944700,"Prop":0.48},{"pos":944730,"Prop":0.38},{"pos":944770,"Prop":0.44},{"pos":944820,"Prop":0.48},{"pos":944850,"Prop":0.58},{"pos":944890,"Prop":0.52},{"pos":944930,"Prop":0.5},{"pos":944980,"Prop":0.51},{"pos":945030,"Prop":0.48},{"pos":945080,"Prop":0.44},{"pos":945110,"Prop":0.42},{"pos":945160,"Prop":0.47},{"pos":945210,"Prop":0.56},{"pos":945240,"Prop":0.53},{"pos":945270,"Prop":0.51},{"pos":945300,"Prop":0.63},{"pos":945320,"Prop":0.72},{"pos":945350,"Prop":0.95},{"pos":945380,"Prop":0.99},{"pos":945430,"Prop":0.99},{"pos":945470,"Prop":0.93},{"pos":945490,"Prop":0.48},{"pos":945510,"Prop":0.09},{"pos":945550,"Prop":0.09},{"pos":945560,"Prop":0.44},{"pos":945580,"Prop":0.62},{"pos":945620,"Prop":0.62},{"pos":945640,"Prop":0.77},{"pos":945670,"Prop":0.73},{"pos":945690,"Prop":0.7},{"pos":945710,"Prop":0.73},{"pos":945750,"Prop":0.74},{"pos":945760,"Prop":0.5},{"pos":945790,"Prop":0.58},{"pos":945810,"Prop":0.72},{"pos":945850,"Prop":0.76},{"pos":945880,"Prop":0.78},{"pos":945900,"Prop":0.66},{"pos":945930,"Prop":0.63},{"pos":945980,"Prop":0.51},{"pos":946010,"Prop":0.39},{"pos":946030,"Prop":0.22},{"pos":946060,"Prop":0.29},{"pos":946100,"Prop":0.3},{"pos":946130,"Prop":0.44},{"pos":946150,"Prop":0.58},{"pos":946190,"Prop":0.5},{"pos":946220,"Prop":0.39},{"pos":946240,"Prop":0.58},{"pos":946270,"Prop":0.41},{"pos":946300,"Prop":0.35},{"pos":946320,"Prop":0.47},{"pos":946350,"Prop":0.62},{"pos":946390,"Prop":0.69},{"pos":946430,"Prop":0.56},{"pos":946470,"Prop":0.48},{"pos":946500,"Prop":0.58},{"pos":946540,"Prop":0.65},{"pos":946580,"Prop":0.76},{"pos":946620,"Prop":0.73},{"pos":946650,"Prop":0.62},{"pos":946670,"Prop":0.5},{"pos":946700,"Prop":0.21},{"pos":946730,"Prop":0.43},{"pos":946770,"Prop":0.59},{"pos":946810,"Prop":0.76},{"pos":946860,"Prop":0.58},{"pos":946880,"Prop":0.35},{"pos":946910,"Prop":0.74},{"pos":946950,"Prop":0.76},{"pos":947010,"Prop":0.77},{"pos":947040,"Prop":0.58},{"pos":947070,"Prop":0.48},{"pos":947130,"Prop":0.39},{"pos":947250,"Prop":0.39},{"pos":947260,"Prop":0},{"pos":947300,"Prop":0},{"pos":947310,"Prop":0.38},{"pos":947420,"Prop":0.38},{"pos":947430,"Prop":0},{"pos":947450,"Prop":0.21},{"pos":947470,"Prop":0.21},{"pos":947480,"Prop":0.43},{"pos":947540,"Prop":0.59},{"pos":947560,"Prop":0.76},{"pos":947590,"Prop":0.96},{"pos":947630,"Prop":1},{"pos":947680,"Prop":1},{"pos":947720,"Prop":0.92},{"pos":947750,"Prop":0.89},{"pos":947770,"Prop":0.55},{"pos":947800,"Prop":0.36},{"pos":947820,"Prop":0.33},{"pos":947860,"Prop":0.4},{"pos":947930,"Prop":0.45},{"pos":947980,"Prop":0.54},{"pos":948030,"Prop":0.55},{"pos":948090,"Prop":0.56},{"pos":948130,"Prop":0.45},{"pos":948180,"Prop":0.47},{"pos":948230,"Prop":0.48},{"pos":948270,"Prop":0.51},{"pos":948310,"Prop":0.56},{"pos":948350,"Prop":0.69},{"pos":948390,"Prop":0.975},{"pos":948440,"Prop":0.98},{"pos":948490,"Prop":0.99},{"pos":948520,"Prop":0.97},{"pos":948560,"Prop":0.81},{"pos":948570,"Prop":0.65},
{"pos":942285,"Prop2":0},{"pos":942286,"Prop2":-0.5},{"pos":942288,"Prop2":-0.5},{"pos":942292,"Prop2":-0.05},{"pos":942300,"Prop2":-0.1},{"pos":942340,"Prop2":-0.1},{"pos":942350,"Prop2":-0.25},{"pos":942380,"Prop2":-0.47},{"pos":942390,"Prop2":-0.7},{"pos":942420,"Prop2":-0.77},{"pos":942460,"Prop2":-0.77},{"pos":942480,"Prop2":-0.74},{"pos":942500,"Prop2":-0.4},{"pos":942530,"Prop2":-0.13},{"pos":942550,"Prop2":-0.1},{"pos":942610,"Prop2":-0.13},{"pos":942620,"Prop2":-0.32},{"pos":942660,"Prop2":-0.32},{"pos":942670,"Prop2":-0.38},{"pos":942690,"Prop2":-0.35},{"pos":942700,"Prop2":-0.51},{"pos":942730,"Prop2":-0.83},{"pos":942740,"Prop2":-0.69},{"pos":942780,"Prop2":-0.73},{"pos":942790,"Prop2":-0.62},{"pos":942820,"Prop2":-0.55},{"pos":942850,"Prop2":-0.31},{"pos":942880,"Prop2":-0.21},{"pos":942920,"Prop2":-0.21},{"pos":942930,"Prop2":-0.53},{"pos":942940,"Prop2":-0.88},{"pos":942960,"Prop2":-0.88},{"pos":942970,"Prop2":-0.99},{"pos":943080,"Prop2":-0.99},{"pos":943090,"Prop2":0},{"pos":943180,"Prop2":0},{"pos":943185,"Prop2":-0.99},{"pos":943310,"Prop2":-0.99},{"pos":943315,"Prop2":0},{"pos":943450,"Prop2":0},{"pos":943455,"Prop2":-0.79},{"pos":943500,"Prop2":-0.8},{"pos":943520,"Prop2":-0.93},{"pos":943580,"Prop2":-0.93},{"pos":943590,"Prop2":-0.74},{"pos":943640,"Prop2":-0.4},{"pos":943660,"Prop2":-0.38},{"pos":943680,"Prop2":-0.44},{"pos":943720,"Prop2":-0.51},{"pos":943740,"Prop2":-0.28},{"pos":943780,"Prop2":-0.39},{"pos":943810,"Prop2":-0.43},{"pos":943840,"Prop2":-0.38},{"pos":943860,"Prop2":-0.61},{"pos":943900,"Prop2":-0.72},{"pos":943930,"Prop2":-0.77},{"pos":943980,"Prop2":-0.73},{"pos":944010,"Prop2":-0.57},{"pos":944050,"Prop2":-0.51},{"pos":944080,"Prop2":-0.59},{"pos":944120,"Prop2":-0.63},{"pos":944160,"Prop2":-0.55},{"pos":944200,"Prop2":-0.5},{"pos":944250,"Prop2":-0.39},{"pos":944290,"Prop2":-0.33},{"pos":944330,"Prop2":-0.38},{"pos":944370,"Prop2":-0.44},{"pos":944430,"Prop2":-0.46},{"pos":944480,"Prop2":-0.51},{"pos":944510,"Prop2":-0.62},{"pos":944560,"Prop2":-0.65},{"pos":944590,"Prop2":-0.58},{"pos":944650,"Prop2":-0.57},{"pos":944700,"Prop2":-0.54},{"pos":944750,"Prop2":-0.59},{"pos":944790,"Prop2":-0.51},{"pos":944840,"Prop2":-0.48},{"pos":944890,"Prop2":-0.5},{"pos":944930,"Prop2":-0.43},{"pos":944980,"Prop2":-0.39},{"pos":945020,"Prop2":-0.38},{"pos":945050,"Prop2":-0.42},{"pos":945100,"Prop2":-0.48},{"pos":945150,"Prop2":-0.58},{"pos":945180,"Prop2":-0.63},{"pos":945220,"Prop2":-0.69},{"pos":945260,"Prop2":-0.61},{"pos":945300,"Prop2":-0.58},{"pos":945330,"Prop2":-0.44},{"pos":945380,"Prop2":-0.48},{"pos":945420,"Prop2":-0.53},{"pos":945460,"Prop2":-0.67},{"pos":945490,"Prop2":-0.79},{"pos":945520,"Prop2":-0.86},{"pos":945560,"Prop2":-0.92},{"pos":945600,"Prop2":-0.78},{"pos":945630,"Prop2":-0.72},{"pos":945650,"Prop2":-0.59},{"pos":945690,"Prop2":-0.61},{"pos":945730,"Prop2":-0.55},{"pos":945790,"Prop2":-0.5},{"pos":945820,"Prop2":-0.42},{"pos":945850,"Prop2":-0.41},{"pos":945890,"Prop2":-0.55},{"pos":945940,"Prop2":-0.49},{"pos":945990,"Prop2":-0.53},{"pos":946050,"Prop2":-0.52},{"pos":946090,"Prop2":-0.55},{"pos":946130,"Prop2":-0.45},{"pos":946180,"Prop2":-0.46},{"pos":946230,"Prop2":-0.5},{"pos":946280,"Prop2":-0.56},{"pos":946330,"Prop2":-0.53},{"pos":946390,"Prop2":-0.56},{"pos":946440,"Prop2":-0.53},{"pos":946490,"Prop2":-0.52},{"pos":946540,"Prop2":-0.42},{"pos":946600,"Prop2":-0.46},{"pos":946650,"Prop2":-0.45},{"pos":946700,"Prop2":-0.42},{"pos":946750,"Prop2":-0.39},{"pos":946810,"Prop2":-0.38},{"pos":946840,"Prop2":-0.37},{"pos":946880,"Prop2":-0.55},{"pos":946910,"Prop2":-0.96},{"pos":946940,"Prop2":-1},{"pos":947050,"Prop2":-1},{"pos":947070,"Prop2":-0.75},{"pos":947090,"Prop2":-0.6},{"pos":947120,"Prop2":-0.24},{"pos":947130,"Prop2":-0.6},{"pos":947160,"Prop2":-0.6},{"pos":947170,"Prop2":-0.75},{"pos":947200,"Prop2":-0.71},{"pos":947280,"Prop2":-0.71},{"pos":947290,"Prop2":-0.25},{"pos":947340,"Prop2":-0.25},{"pos":947350,"Prop2":-1},{"pos":947465,"Prop2":-1},{"pos":947470,"Prop2":0},{"pos":947590,"Prop2":0},{"pos":947600,"Prop2":-1},{"pos":947690,"Prop2":-1},{"pos":947700,"Prop2":-0.81},{"pos":947750,"Prop2":-0.81},{"pos":947770,"Prop2":-0.44},{"pos":947860,"Prop2":-0.44},{"pos":947870,"Prop2":0},{"pos":947880,"Prop2":-0.33},{"pos":947930,"Prop2":-0.33},{"pos":947940,"Prop2":-0.75},{"pos":947960,"Prop2":-1},{"pos":948010,"Prop2":-1},{"pos":948020,"Prop2":-0.9},{"pos":948060,"Prop2":-0.9},{"pos":948090,"Prop2":-0.61},{"pos":948130,"Prop2":-0.33},{"pos":948190,"Prop2":-0.33},{"pos":948200,"Prop2":-0.2},{"pos":948220,"Prop2":-0.81},{"pos":948270,"Prop2":-0.82},{"pos":948320,"Prop2":-0.83},{"pos":948325,"Prop2":-1},{"pos":948490,"Prop2":-1},{"pos":948500,"Prop2":0},{"pos":948570,"Prop2":0}
],
"bBase":[{"x":64,"x2":1077,"y":686.5,"y2":686.5}],
"bGenes":[
{"gene":"entD","x":88,"y":671,"y2":702},{"gene":"entD","x":155,"y":671,"y2":702},{"gene":"entD","x":155.1,"y":656,"y2":717},{"gene":"entD","x":178,"y":686.5,"y2":686.5},
{"gene":"entF","x":196,"y":671,"y2":702},{"gene":"entF","x":530,"y":671,"y2":702},{"gene":"entF","x":530.1,"y":656,"y2":717},{"gene":"entF","x":551,"y":686.5,"y2":686.5},
{"gene":"SNZ","x":574.5,"y":671,"y2":702},{"gene":"SNZ","x":643,"y":671,"y2":702},{"gene":"SNZ","x":643.1,"y":656,"y2":717},{"gene":"SNZ","x":663,"y":686.5,"y2":686.5},
{"gene":"SNO","x":663,"y":686.5,"y2":686.5},{"gene":"SNO","x":684,"y":656,"y2":717},{"gene":"SNO","x":684.1,"y":671,"y2":702},{"gene":"SNO","x":745,"y":671,"y2":702},
{"gene":"entC","x":769,"y":671,"y2":702},{"gene":"entC","x":846,"y":671,"y2":702},{"gene":"entC","x":846.1,"y":656,"y2":717},{"gene":"entC","x":871,"y":686.5,"y2":686.5},
{"gene":"entE","x":917,"y":671,"y2":702},{"gene":"entE","x":1029,"y":671,"y2":702},{"gene":"entE","x":1029.1,"y":656,"y2":717},{"gene":"entE","x":1066,"y":686.5,"y2":686.5}
],
"bArcs":[
{"arc":1,"x":162,"y":669},{"arc":1,"x":165.7,"y":660.6},{"arc":1,"x":171.3,"y":656.8},{"arc":1,"x":180.5,"y":655},{"arc":1,"x":189.8,"y":656.8},{"arc":1,"x":195.3,"y":660.6},{"arc":1,"x":199,"y":669},
{"arc":2,"x":539,"y":670},{"arc":2,"x":542.9,"y":661},{"arc":2,"x":548.8,"y":657},{"arc":2,"x":558.5,"y":655},{"arc":2,"x":568.3,"y":657},{"arc":2,"x":574.1,"y":661},{"arc":2,"x":578,"y":670},
{"arc":3,"x":646,"y":665},{"arc":3,"x":649.6,"y":659},{"arc":3,"x":655,"y":656.3},{"arc":3,"x":664,"y":655},{"arc":3,"x":673,"y":656.3},{"arc":3,"x":678.4,"y":659},{"arc":3,"x":682,"y":665},
{"arc":4,"x":727,"y":671},{"arc":4,"x":732.6,"y":661.4},{"arc":4,"x":741,"y":657.1},{"arc":4,"x":755,"y":655},{"arc":4,"x":769,"y":657.1},{"arc":4,"x":777.4,"y":661.4},{"arc":4,"x":783,"y":671},
{"arc":5,"x":854,"y":668},{"arc":5,"x":860.7,"y":660.2},{"arc":5,"x":870.8,"y":656.7},{"arc":5,"x":887.5,"y":655},{"arc":5,"x":904.3,"y":656.7},{"arc":5,"x":914.3,"y":660.2},{"arc":5,"x":921,"y":671}
],
"bBrk":[
{"x":180,"y":686.5,"x2":180,"y2":737},{"x":180,"y":737,"x2":185,"y2":737},
{"x":554,"y":686.5,"x2":554,"y2":737},{"x":554,"y":737,"x2":559,"y2":737},
{"x":663,"y":686.5,"x2":663,"y2":740},
{"x":681,"y":686.5,"x2":681,"y2":737},{"x":681,"y":737,"x2":688,"y2":737},
{"x":871,"y":686.5,"x2":871,"y2":737},{"x":871,"y":737,"x2":877,"y2":737},
{"x":1069,"y":686.5,"x2":1069,"y2":737},{"x":1069,"y":737,"x2":1075,"y2":737}
],
"bPoly":[
{"x":186,"sx":211,"y":736,"t":"0 (A)"},{"x":560,"sx":585,"y":736,"t":"0 (A)"},{"x":624,"sx":649,"y":736,"t":"3 (A)"},{"x":689,"sx":714,"y":736,"t":"2 (A)"},{"x":878,"sx":903,"y":736,"t":"0 (A)"},{"x":1076,"sx":1101,"y":736,"t":"0 (A)"}
],
"bCount":[{"x":179,"y":648,"t":"0"},{"x":557,"y":648,"t":"0"},{"x":882,"y":648,"t":"0"}],
"bX":[{"x":663,"y":657,"t":"X"},{"x":757,"y":657,"t":"X"}],
"bLbl":[{"x":127,"y":686.5,"t":"entD"},{"x":368,"y":686.5,"t":"entF"},{"x":614,"y":686.5,"t":"SNZ"},{"x":705,"y":686.5,"t":"SNO"},{"x":813,"y":686.5,"t":"entC"},{"x":981,"y":686.5,"t":"entE"}],
"bLetter":[{"x":11,"y":648,"t":"B"}],
"dBase":[{"x":70,"x2":1076,"y":1410.5,"y2":1410.5}],
"dGenes":[
{"gene":"entA","x":88,"y":1396.5,"y2":1424.5},{"gene":"entA","x":189,"y":1396.5,"y2":1424.5},{"gene":"entA","x":189.1,"y":1381.5,"y2":1439.5},{"gene":"entA","x":222.5,"y":1410.5,"y2":1410.5},
{"gene":"FRE","x":256,"y":1396.5,"y2":1424.5},{"gene":"FRE","x":492,"y":1396.5,"y2":1424.5},{"gene":"FRE","x":492.1,"y":1381.5,"y2":1439.5},{"gene":"FRE","x":570,"y":1410.5,"y2":1410.5},
{"gene":"TM protein","x":570,"y":1410.5,"y2":1410.5},{"gene":"TM protein","x":627.5,"y":1381.5,"y2":1439.5},{"gene":"TM protein","x":627.6,"y":1396.5,"y2":1424.5},{"gene":"TM protein","x":805,"y":1396.5,"y2":1424.5},
{"gene":"entB","x":880,"y":1396.5,"y2":1424.5},{"gene":"entB","x":991,"y":1396.5,"y2":1424.5},{"gene":"entB","x":991.1,"y":1381.5,"y2":1439.5},{"gene":"entB","x":1030,"y":1410.5,"y2":1410.5}
],
"dArcs":[
{"arc":1,"x":202,"y":1395},{"arc":1,"x":208.3,"y":1387.2},{"arc":1,"x":217.8,"y":1383.7},{"arc":1,"x":233.5,"y":1382},{"arc":1,"x":249.3,"y":1383.7},{"arc":1,"x":258.7,"y":1387.2},{"arc":1,"x":265,"y":1396.5},
{"arc":2,"x":522,"y":1393},{"arc":2,"x":530.8,"y":1386.4},{"arc":2,"x":544,"y":1383.4},{"arc":2,"x":566,"y":1382},{"arc":2,"x":588,"y":1383.4},{"arc":2,"x":601.2,"y":1386.4},{"arc":2,"x":610,"y":1393},
{"arc":3,"x":803,"y":1396.5},{"arc":3,"x":811.5,"y":1387.6},{"arc":3,"x":824.3,"y":1383.8},{"arc":3,"x":845.5,"y":1382},{"arc":3,"x":866.8,"y":1383.8},{"arc":3,"x":879.5,"y":1387.6},{"arc":3,"x":888,"y":1396.5}
],
"dBrk":[
{"x":222.5,"y":1410.5,"x2":222.5,"y2":1446},{"x":222.5,"y":1446,"x2":228,"y2":1446},
{"x":551,"y":1410.5,"x2":551,"y2":1446},{"x":534,"y":1446,"x2":551,"y2":1446},
{"x":585,"y":1410.5,"x2":585,"y2":1446},{"x":585,"y":1446,"x2":602,"y2":1446},
{"x":1035.5,"y":1410.5,"x2":1035.5,"y2":1446},{"x":1035.5,"y":1446,"x2":1041,"y2":1446}
],
"dPoly":[{"x":230,"sx":255,"y":1446,"t":"6 (A)"},{"x":500,"sx":525,"y":1446,"t":"0 (A)"},{"x":605,"sx":630,"y":1446,"t":"6 (A)"},{"x":1043,"sx":1068,"y":1446,"t":"0 (A)"}],
"dCount":[{"x":228,"y":1372,"t":"0"}],
"dX":[{"x":565,"y":1382,"t":"X"},{"x":845,"y":1382,"t":"X"}],
"dLblIt":[{"x":146,"y":1410.5,"t":"entA"},{"x":393,"y":1410.5,"t":"FRE"},{"x":944,"y":1410.5,"t":"entB"}],
"dLbl":[{"x":686,"y":1410.5,"t":"TM protein"}],
"dLetter":[{"x":11,"y":1403,"t":"D"}]
},
"vconcat":[
{
"width":997,"height":597,
"encoding":{"x":{"field":"pos","type":"quantitative","scale":{"domain":[511575,522750],"nice":false,"zero":false},"axis":{"values":[512000,513000,514000,515000,516000,517000,518000,519000,520000,521000,522000],"format":"~s","title":"Position","grid":true,"labelFontSize":9,"labelPadding":3,"titlePadding":5}}},
"layer":[
{"data":{"name":"aArea"},"transform":[{"fold":["Read","Span","Read2","Span2"],"as":["series","reads"]}],
"mark":{"type":"area","clip":true,"opacity":1},
"encoding":{
"y":{"field":"reads","type":"quantitative","stack":"zero","scale":{"domain":[-2000,2000],"nice":false},"axis":{"orient":"left","values":[-2000,-1500,-1000,-500,0,500,1000,1500,2000],"format":"d","title":"# of reads","grid":true,"gridColor":{"condition":{"test":"datum.value === 0","value":"#999999"},"value":"#ebebeb"},"labelPadding":6,"titlePadding":3}},
"color":{"field":"series","type":"nominal","scale":{"domain":["Span","Read","Span2","Read2","Prop","Prop2"],"range":["#4169e1","#ff8c00","#008000","#800080","#222222","#222222"]},
"legend":{"orient":"none","legendX":1021,"legendY":6.5,"title":null,"padding":0,"labelFontSize":8,"labelColor":"#555","symbolSize":100,"symbolStrokeWidth":0,"rowPadding":4.8,"symbolOffset":7.5,"labelOffset":9,"symbolType":"M-2.3,-0.35H2.3V0.35H-2.3Z"}},
"order":{"field":"series","type":"ordinal","sort":"ascending"}}},
{"data":{"name":"aProp"},"transform":[{"fold":["Prop","Prop2"],"as":["series","prop"]},{"filter":{"field":"prop","valid":true}}],
"mark":{"type":"line","strokeWidth":1,"clip":true},
"encoding":{
"y":{"field":"prop","type":"quantitative","scale":{"domain":[-1,1],"nice":false},"axis":{"orient":"right","values":[-1,-0.9,-0.8,-0.7,-0.6,-0.5,-0.4,-0.3,-0.2,-0.1,0,0.1,0.2,0.3,0.4,0.5,0.6,0.7,0.8,0.9,1],"format":"~g","title":"% read coverage","titleAngle":270,"titleBaseline":"top","grid":true,"gridColor":"#f2f2f2","labelPadding":6,"titlePadding":5,"domain":true,"domainColor":"#999999"}},
"color":{"field":"series","type":"nominal","scale":{"domain":["Span","Read","Span2","Read2","Prop","Prop2"],"range":["#4169e1","#ff8c00","#008000","#800080","#222222","#222222"]}}}},
{"data":{"values":[{"pos":510779,"h":1956,"t":"A"}]},
"mark":{"type":"text","font":"Liberation Sans","fontWeight":"bold","fontSize":24,"align":"left","baseline":"middle","color":"#000000"},
"encoding":{"y":{"field":"h","type":"quantitative","scale":{"domain":[-2000,2000],"nice":false},"axis":null},"text":{"field":"t"}}}
],
"resolve":{"scale":{"y":"independent"}}
},
{
"width":997,"height":161,
"encoding":{"x":{"field":"x","type":"quantitative","scale":{"domain":[82,1079],"nice":false,"zero":false},"axis":null},"y":{"field":"y","type":"quantitative","scale":{"domain":[612,773],"nice":false,"zero":false,"reverse":true},"axis":null}},
"layer":[
{"data":{"name":"bBase"},"mark":{"type":"rule","color":"#222222","strokeWidth":1.2},"encoding":{"x2":{"field":"x2"},"y2":{"field":"y2"}}},
{"data":{"name":"bGenes"},"mark":{"type":"area","orient":"vertical","stroke":"#1a1a1a","strokeWidth":1.5,"opacity":1,"strokeJoin":"miter"},
"encoding":{"y2":{"field":"y2"},"color":{"field":"gene","type":"nominal","scale":{"domain":["entD","entF","SNZ","SNO","entC","entE"],"range":["#ccffcc","#993366","#ffffff","#ffffff","#6699cc","#ff8080"]},"legend":null}}},
{"data":{"name":"bArcs"},"mark":{"type":"line","interpolate":"monotone","color":"#111111","strokeWidth":3.2},"encoding":{"detail":{"field":"arc"}}},
{"data":{"name":"bBrk"},"mark":{"type":"rule","color":"#111111","strokeWidth":1.5},"encoding":{"x2":{"field":"x2"},"y2":{"field":"y2"}}},
{"data":{"name":"bLbl"},"mark":{"type":"text","font":"Liberation Sans","fontStyle":"italic","fontSize":14,"color":"#222222","align":"center","baseline":"middle"},"encoding":{"text":{"field":"t"}}},
{"data":{"name":"bCount"},"mark":{"type":"text","font":"Liberation Sans","fontWeight":"bold","fontSize":11,"color":"#111111","align":"center","baseline":"middle"},"encoding":{"text":{"field":"t"}}},
{"data":{"name":"bX"},"mark":{"type":"text","font":"Liberation Sans","fontWeight":"bold","fontSize":24,"color":"#ff2a2a","align":"center","baseline":"middle"},"encoding":{"text":{"field":"t"}}},
{"data":{"name":"bPoly"},"mark":{"type":"text","font":"Liberation Sans","fontWeight":"bold","fontSize":11,"color":"#111111","align":"left","baseline":"middle"},"encoding":{"text":{"field":"t"}}},
{"data":{"name":"bPoly"},"mark":{"type":"text","text":"3+","font":"Liberation Sans","fontWeight":"bold","fontSize":7,"color":"#111111","align":"left","baseline":"middle","dy":4},"encoding":{"x":{"field":"sx","type":"quantitative","scale":{"domain":[82,1079],"nice":false,"zero":false},"axis":null}}},
{"data":{"name":"bLetter"},"mark":{"type":"text","font":"Liberation Sans","fontWeight":"bold","fontSize":24,"color":"#000000","align":"left","baseline":"middle"},"encoding":{"text":{"field":"t"}}}
]
},
{
"width":949,"height":570,
"encoding":{"x":{"field":"pos","type":"quantitative","scale":{"domain":[942285,948570],"nice":false,"zero":false},"axis":{"values":[943000,944000,945000,946000,947000,948000],"format":"~s","title":"Position","grid":true,"labelFontSize":9,"labelPadding":3,"titlePadding":5}}},
"layer":[
{"data":{"name":"cArea"},"transform":[{"fold":["Read","Span","Read2","Span2"],"as":["series","reads"]}],
"mark":{"type":"area","clip":true,"opacity":1},
"encoding":{
"y":{"field":"reads","type":"quantitative","stack":"zero","scale":{"domain":[-5000,5000],"nice":false},"axis":{"orient":"left","values":[-5000,-4500,-4000,-3500,-3000,-2500,-2000,-1500,-1000,-500,0,500,1000,1500,2000,2500,3000,3500,4000,4500,5000],"format":"d","title":"# of reads","grid":true,"gridColor":{"condition":{"test":"datum.value === 0","value":"#999999"},"value":"#ebebeb"},"labelPadding":6,"titlePadding":3}},
"color":{"field":"series","type":"nominal","scale":{"domain":["Span","Read","Span2","Read2","Prop","Prop2"],"range":["#4169e1","#ff8c00","#008000","#800080","#222222","#222222"]},
"legend":{"orient":"none","legendX":978,"legendY":6.5,"title":null,"padding":0,"labelFontSize":8,"labelColor":"#555","symbolSize":81,"symbolStrokeWidth":0,"rowPadding":4,"symbolOffset":5.4,"labelOffset":8,"symbolType":"M-2.2,-0.4H2.2V0.4H-2.2Z"}},
"order":{"field":"series","type":"ordinal","sort":"ascending"}}},
{"data":{"name":"cProp"},"transform":[{"fold":["Prop","Prop2"],"as":["series","prop"]},{"filter":{"field":"prop","valid":true}}],
"mark":{"type":"line","strokeWidth":1,"clip":true},
"encoding":{
"y":{"field":"prop","type":"quantitative","scale":{"domain":[-1,1],"nice":false},"axis":{"orient":"right","values":[-1,-0.9,-0.8,-0.7,-0.6,-0.5,-0.4,-0.3,-0.2,-0.1,0,0.1,0.2,0.3,0.4,0.5,0.6,0.7,0.8,0.9,1],"format":"~g","title":"% read coverage","titleAngle":270,"titleBaseline":"top","grid":true,"gridColor":"#f2f2f2","labelPadding":6,"titlePadding":5,"domain":true,"domainColor":"#999999"}},
"color":{"field":"series","type":"nominal","scale":{"domain":["Span","Read","Span2","Read2","Prop","Prop2"],"range":["#4169e1","#ff8c00","#008000","#800080","#222222","#222222"]}}}},
{"data":{"values":[{"pos":941815,"h":4947,"t":"C"}]},
"mark":{"type":"text","font":"Liberation Sans","fontWeight":"bold","fontSize":24,"align":"left","baseline":"middle","color":"#000000"},
"encoding":{"y":{"field":"h","type":"quantitative","scale":{"domain":[-5000,5000],"nice":false},"axis":null},"text":{"field":"t"}}}
],
"resolve":{"scale":{"y":"independent"}}
},
{
"width":997,"height":109,
"encoding":{"x":{"field":"x","type":"quantitative","scale":{"domain":[82,1079],"nice":false,"zero":false},"axis":null},"y":{"field":"y","type":"quantitative","scale":{"domain":[1343,1452],"nice":false,"zero":false,"reverse":true},"axis":null}},
"layer":[
{"data":{"name":"dBase"},"mark":{"type":"rule","color":"#222222","strokeWidth":1.2},"encoding":{"x2":{"field":"x2"},"y2":{"field":"y2"}}},
{"data":{"name":"dGenes"},"mark":{"type":"area","orient":"vertical","stroke":"#1a1a1a","strokeWidth":1.5,"opacity":1,"strokeJoin":"miter"},
"encoding":{"y2":{"field":"y2"},"color":{"field":"gene","type":"nominal","scale":{"domain":["entA","FRE","TM protein","entB"],"range":["#99cc00","#ffffff","#ffffff","#ff8c00"]},"legend":null}}},
{"data":{"name":"dArcs"},"mark":{"type":"line","interpolate":"monotone","color":"#111111","strokeWidth":3.2},"encoding":{"detail":{"field":"arc"}}},
{"data":{"name":"dBrk"},"mark":{"type":"rule","color":"#111111","strokeWidth":1.5},"encoding":{"x2":{"field":"x2"},"y2":{"field":"y2"}}},
{"data":{"name":"dLblIt"},"mark":{"type":"text","font":"Liberation Sans","fontStyle":"italic","fontSize":14,"color":"#222222","align":"center","baseline":"middle"},"encoding":{"text":{"field":"t"}}},
{"data":{"name":"dLbl"},"mark":{"type":"text","font":"Liberation Sans","fontSize":14,"color":"#222222","align":"center","baseline":"middle"},"encoding":{"text":{"field":"t"}}},
{"data":{"name":"dCount"},"mark":{"type":"text","font":"Liberation Sans","fontWeight":"bold","fontSize":11,"color":"#111111","align":"center","baseline":"middle"},"encoding":{"text":{"field":"t"}}},
{"data":{"name":"dX"},"mark":{"type":"text","font":"Liberation Sans","fontWeight":"bold","fontSize":24,"color":"#ff2a2a","align":"center","baseline":"middle"},"encoding":{"text":{"field":"t"}}},
{"data":{"name":"dPoly"},"mark":{"type":"text","font":"Liberation Sans","fontWeight":"bold","fontSize":11,"color":"#111111","align":"left","baseline":"middle"},"encoding":{"text":{"field":"t"}}},
{"data":{"name":"dPoly"},"mark":{"type":"text","text":"3+","font":"Liberation Sans","fontWeight":"bold","fontSize":7,"color":"#111111","align":"left","baseline":"middle","dy":4},"encoding":{"x":{"field":"sx","type":"quantitative","scale":{"domain":[82,1079],"nice":false,"zero":false},"axis":null}}},
{"data":{"name":"dLetter"},"mark":{"type":"text","font":"Liberation Sans","fontWeight":"bold","fontSize":24,"color":"#000000","align":"left","baseline":"middle"},"encoding":{"text":{"field":"t"}}}
]
}
]
}
